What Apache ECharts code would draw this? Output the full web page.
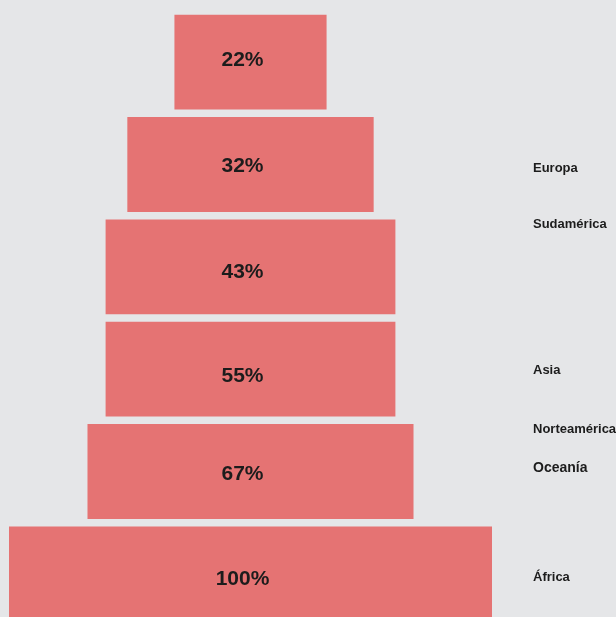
<!DOCTYPE html>
<html>
<head>
<meta charset="utf-8">
<script src="https://cdn.jsdelivr.net/npm/echarts@6/dist/echarts.min.js"></script>
<style>
  html, body { margin: 0; padding: 0; background: #e5e6e8; }
  #chart { width: 616px; height: 617px; }
</style>
</head>
<body>
<div id="chart"></div>
<script>
// Niveles de la pirámide, de arriba hacia abajo
const niveles = ['N1', 'N2', 'N3', 'N4', 'N5', 'N6'];
// Porcentaje mostrado en cada nivel
const porcentajes = [22, 32, 43, 55, 67, 100];
// Ancho relativo de cada barra (100 = la más ancha)
const anchos = [31.5, 51, 60, 60, 67.5, 100];
// Regiones listadas a la derecha
const regiones = ['Europa', 'Sudamérica', 'Asia', 'Norteamérica', 'Oceanía', 'África'];

const chart = echarts.init(document.getElementById('chart'), null, { renderer: 'canvas' });

const datos = niveles.map((n, i) => [i, anchos[i], porcentajes[i]]);

// Ajustes de maquetación: desplazamiento vertical de cada etiqueta de porcentaje
const ajusteEtiqueta = [-2, 2, 5, 7, 3, 5];
// posiciones verticales y tamaños de las etiquetas de regiones
const regionY = [169, 225, 371, 430, 469, 578];
const regionSize = [13, 13, 13, 13, 14, 13];

chart.setOption({
  backgroundColor: '#e5e6e8',
  animation: false,
  grid: { left: 9, width: 483, top: 11, height: 614, outerBoundsMode: 'none', containLabel: false },
  xAxis: { type: 'value', min: -50, max: 50, show: false },
  yAxis: { type: 'category', data: niveles, inverse: true, show: false },
  series: [{
    type: 'custom',
    data: datos,
    encode: { x: 1, y: 0 },
    clip: false,
    renderItem: function (params, api) {
      const idx = api.value(0);
      const ancho = api.value(1);
      const izq = api.coord([-ancho / 2, idx]);
      const der = api.coord([ancho / 2, idx]);
      const banda = api.size([0, 1])[1];
      const alto = banda * 0.926;
      return {
        type: 'group',
        children: [{
          type: 'rect',
          shape: { x: izq[0], y: izq[1] - alto / 2, width: der[0] - izq[0], height: alto },
          style: { fill: '#e57373' }
        }, {
          type: 'text',
          x: (izq[0] + der[0]) / 2 - 8,
          y: izq[1] + ajusteEtiqueta[idx],
          style: {
            text: api.value(2) + '%',
            fill: '#1c1c1c',
            font: 'bold 21px "Liberation Sans", Arial, sans-serif',
            align: 'center',
            verticalAlign: 'middle'
          }
        }]
      };
    }
  }],
  graphic: regiones.map((r, i) => ({
    type: 'text',
    left: 533,
    top: regionY[i] - regionSize[i] / 2 - 1,
    style: {
      text: r,
      fill: '#1c1c1c',
      font: 'bold ' + regionSize[i] + 'px "Liberation Sans", Arial, sans-serif'
    }
  }))
});
</script>
</body>
</html>
